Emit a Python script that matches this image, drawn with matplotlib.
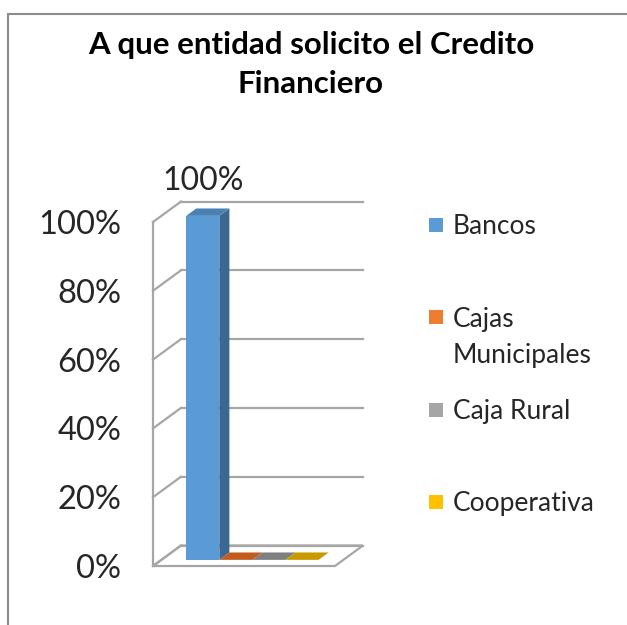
import matplotlib
matplotlib.use("Agg")
import matplotlib.pyplot as plt
from matplotlib.patches import Polygon, Rectangle

plt.rcParams['font.family'] = ['Lato', 'DejaVu Sans']

title = "A que entidad solicito el Credito\nFinanciero"
series = ["Bancos", "Cajas\nMunicipales", "Caja Rural", "Cooperativa"]
values = [1.00, 0.0, 0.0, 0.0]
yticks = [0.0, 0.2, 0.4, 0.6, 0.8, 1.0]
ytick_labels = ["0%", "20%", "40%", "60%", "80%", "100%"]

front = ["#5B9BD5", "#ED7D31", "#A5A5A5", "#FFC000"]
side = ["#3C6791", "#A9561F", "#737373", "#B38800"]
top = ["#4A80B4", "#C35B1E", "#7F7F7F", "#C99A00"]
wall = "#A6A6A6"

W, H = 627, 625
fig = plt.figure(figsize=(W / 100, H / 100), dpi=100)

# front plane of the pseudo-3d box
ax = fig.add_axes([153 / W, (H - 566) / H, 182 / W, 344 / H])
xmax = 5.5
ax.set_xlim(0, xmax)
ax.set_ylim(0, 1)

# depth offset (28 px right, 20.5 px up) expressed in data units
dX = 28 / 182 * xmax
dY = 20.5 / 344

# floor
ax.add_patch(Polygon([(0, 0), (xmax, 0), (xmax + dX, dY), (dX, dY)],
                     closed=True, facecolor="white", edgecolor=wall,
                     lw=1.6, clip_on=False, zorder=1))
# side wall and back wall grid
ax.plot([0, 0], [0, 1], color=wall, lw=1.6, clip_on=False, zorder=1)
for y in yticks:
    ax.plot([0, dX], [y, y + dY], color=wall, lw=1.6, clip_on=False, zorder=1)
    ax.plot([dX, xmax + dX], [y + dY, y + dY], color=wall, lw=1.6,
            clip_on=False, zorder=1)

# bars
f0, f1 = 0.30, 0.66
bx0 = f0 * dX
by0 = f0 * dY
ddx = (f1 - f0) * dX
ddy = (f1 - f0) * dY
for i, v in enumerate(values):
    x0 = 0.75 + i + bx0
    x1 = x0 + 1
    ax.bar(x0, v, width=1, bottom=by0, align="edge", color=front[i],
           lw=0, clip_on=False, zorder=3)
    ax.add_patch(Polygon([(x1, by0), (x1, by0 + v), (x1 + ddx, by0 + v + ddy),
                          (x1 + ddx, by0 + ddy)], closed=True,
                         facecolor=side[i], lw=0, clip_on=False, zorder=3))
    ax.add_patch(Polygon([(x0, by0 + v), (x1, by0 + v),
                          (x1 + ddx, by0 + v + ddy), (x0 + ddx, by0 + v + ddy)],
                         closed=True, facecolor=top[i], lw=0, clip_on=False,
                         zorder=4))
    if v > 0:
        ax.annotate(f"{v:.0%}", (x0 + 0.5, by0 + v), xytext=(0, 25),
                    textcoords="offset points", ha="center", va="center",
                    fontsize=23, color="#262626", annotation_clip=False)

ax.set_yticks(yticks)
ax.set_yticklabels(ytick_labels, fontsize=23.5, color="#262626")
ax.tick_params(axis="y", length=0, pad=23)
ax.set_xticks([])
for s in ax.spines.values():
    s.set_visible(False)
ax.patch.set_visible(False)

# title
fig.text(311 / W, (H - 64.5) / H, title, ha="center", va="center",
         fontsize=22.5, fontweight="bold", linespacing=1.44, color="#000000")

# legend (handle sits on the first line of each entry)
for i, name in enumerate(series):
    yc = 225 + 92.3 * i
    extra = name.count("\n") * 36
    fig.add_artist(Rectangle((429 / W, (H - yc - 7) / H), 14 / W, 14 / H,
                             transform=fig.transFigure, facecolor=front[i], lw=0))
    fig.text(453 / W, (H - yc - 9.5 - extra) / H, name, ha="left", va="baseline",
             fontsize=19, linespacing=1.55, color="#262626")

# outer chart border
fig.add_artist(Rectangle((8 / W, -0.1), 1.2, (H - 14) / H + 0.1,
                         transform=fig.transFigure, fill=False,
                         edgecolor="#8C8C8C", lw=1.5))

fig.savefig("out.png", dpi=100)
